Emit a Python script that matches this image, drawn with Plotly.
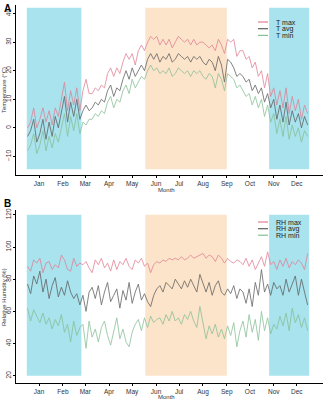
import pandas as pd
import plotly.graph_objects as go

dates = pd.date_range("2019-12-17", periods=92, freq="4D")

t_max = [0, 2, 7, 0, 3, 7, 2, 6, 1, 7, 4, 10,
         16, 6, 13, 8, 14, 6, 13, 17, 12, 12, 14, 13,
         15, 14, 19, 21, 18, 21, 19, 23, 26, 24, 26, 22,
         27, 29, 27, 30, 32, 31, 32, 29, 31, 29, 31, 28,
         30, 32, 31, 30, 31, 29, 31, 29, 30, 30, 29, 28,
         29, 27, 31, 29, 26, 31, 30, 31, 25, 27, 27, 24,
         25, 21, 23, 18, 20, 14, 19, 11, 14, 8, 13, 7,
         14, 5, 11, 6, 10, 3, 8, 5]
t_avg = [-3, -1, 3, -5, -2, 3, -4, 2, -3, 4, 0, 5,
         11, 2, 9, 4, 10, 3, 6, 8, 6, 7, 9, 8,
         10, 9, 13, 15, 11, 14, 13, 17, 20, 17, 21, 18,
         20, 22, 20, 24, 26, 24, 26, 23, 25, 24, 26, 23,
         24, 26, 25, 24, 25, 23, 25, 24, 25, 23, 22, 24,
         23, 20, 25, 22, 16, 24, 23, 21, 18, 19, 18, 16,
         17, 13, 15, 12, 14, 9, 12, 7, 10, 3, 8, 2,
         9, 1, 6, 2, 5, 0, 4, 1]
t_min = [-8, -6, -2, -9, -6, -1, -8, -3, -7, -2, -5, 0,
         5, -3, 4, -1, 5, -2, 2, 1, 3, 3, 5, 4,
         6, 5, 9, 11, 7, 10, 9, 13, 15, 12, 17, 14,
         16, 18, 17, 20, 22, 20, 21, 19, 20, 19, 21, 18,
         19, 21, 20, 19, 20, 18, 20, 19, 20, 18, 17, 19,
         18, 14, 19, 17, 13, 19, 18, 17, 14, 15, 13, 11,
         12, 8, 11, 7, 10, 4, 8, 2, 5, -2, 3, -3,
         4, -4, 1, -3, 0, -5, -1, -3]

rh_max = [88, 85, 92, 90, 93, 84, 90, 91, 86, 89, 87, 95,
          92, 86, 85, 93, 88, 90, 89, 91, 87, 84, 92, 89,
          93, 87, 90, 85, 92, 86, 91, 89, 93, 88, 86, 92,
          90, 93, 88, 90, 84, 89, 91, 90, 92, 91, 93, 92,
          93, 92, 94, 92, 93, 95, 93, 94, 95, 96, 93, 95,
          94, 91, 95, 93, 90, 93, 91, 90, 92, 91, 89, 93,
          88, 92, 86, 90, 94, 88, 97, 89, 91, 86, 92, 88,
          93, 87, 91, 89, 92, 90, 86, 96]
rh_avg = [77, 71, 82, 77, 85, 72, 80, 68, 76, 81, 69, 75,
          70, 79, 72, 68, 71, 64, 70, 60, 72, 75, 68, 76,
          64, 72, 78, 66, 70, 74, 62, 73, 67, 78, 65, 72,
          77, 67, 71, 66, 63, 70, 74, 76, 72, 78, 76, 74,
          80, 77, 74, 79, 75, 80, 76, 72, 83, 77, 72, 78,
          70, 76, 79, 72, 70, 74, 71, 76, 68, 74, 72, 65,
          74, 63, 78, 70, 86, 72, 77, 70, 78, 74, 76, 70,
          80, 72, 77, 82, 70, 80, 72, 64]
rh_min = [62, 54, 61, 57, 53, 59, 52, 56, 49, 55, 51, 58,
          47, 52, 41, 54, 45, 50, 52, 37, 54, 44, 49, 41,
          50, 54, 45, 39, 47, 56, 43, 49, 41, 38, 47, 52,
          55, 48, 56, 50, 57, 53, 55, 56, 52, 58, 54, 60,
          54, 56, 52, 58, 55, 60, 54, 50, 63, 52, 43, 51,
          46, 52, 44, 49, 43, 51, 45, 53, 38, 48, 54, 44,
          58, 47, 55, 42, 60, 48, 56, 46, 52, 49, 57, 51,
          59, 48, 62, 53, 58, 50, 56, 48]

month_ticks = pd.date_range("2020-01-01", periods=12, freq="MS")
month_labels = ["Jan", "Feb", "Mar", "Apr", "May", "Jun",
                "Jul", "Aug", "Sep", "Oct", "Nov", "Dec"]

cold_periods = [("2019-12-16", "2020-02-25"), ("2020-10-26", "2020-12-17")]
warm_periods = [("2020-05-18", "2020-09-01")]

COL_MAX = "#E07F93"
COL_AVG = "#5E5E5E"
COL_MIN = "#86BE95"
COL_COLD = "#A8E3EE"
COL_WARM = "#FCE4CA"
FONT = "Liberation Sans"

ML, MR, MT, MB = 16, 2, 5, 17
W = 325 - ML - MR
H = 400 - MT - MB
def px(xp):
    return (xp - ML) / W
def py(yp):
    return (400 - MB - yp) / H

fig = go.Figure()

series_a = [("T max", t_max, COL_MAX), ("T avg", t_avg, COL_AVG), ("T min", t_min, COL_MIN)]
series_b = [("RH max", rh_max, COL_MAX), ("RH avg", rh_avg, COL_AVG), ("RH min", rh_min, COL_MIN)]

for name, vals, col in series_a:
    fig.add_trace(go.Scatter(x=dates, y=vals, mode="lines", name=name,
                             line=dict(color=col, width=0.9), opacity=0.85,
                             xaxis="x", yaxis="y", showlegend=False))
for name, vals, col in series_b:
    fig.add_trace(go.Scatter(x=dates, y=vals, mode="lines", name=name,
                             line=dict(color=col, width=0.9), opacity=0.85,
                             xaxis="x2", yaxis="y2", showlegend=False))

shapes = []
for (xr, yr, y0, y1) in [("x", "y", -14.5, 42), ("x2", "y2", 20, 120)]:
    for s, e in cold_periods:
        shapes.append(dict(type="rect", xref=xr, yref=yr, x0=s, x1=e, y0=y0, y1=y1,
                           fillcolor=COL_COLD, line=dict(width=0), layer="below"))
    for s, e in warm_periods:
        shapes.append(dict(type="rect", xref=xr, yref=yr, x0=s, x1=e, y0=y0, y1=y1,
                           fillcolor=COL_WARM, line=dict(width=0), layer="below"))

annotations = []
# compact ggplot-style legend keys
for series, ys in [(series_a, [22, 28.7, 35.4]), (series_b, [222, 228.7, 235.2])]:
    for (name, _, col), yy in zip(series, ys):
        shapes.append(dict(type="line", xref="paper", yref="paper",
                           x0=px(258), x1=px(268), y0=py(yy), y1=py(yy),
                           line=dict(color=col, width=1.2)))
        annotations.append(dict(text=name, x=px(274), y=py(yy), xanchor="left",
                                yanchor="middle",
                                font=dict(family=FONT, size=7, color="#222222")))

xcommon = dict(type="date", range=["2019-12-02", "2021-01-04"],
               tickvals=list(month_ticks), ticktext=month_labels,
               showline=True, linecolor="black", linewidth=0.6,
               ticks="outside", ticklen=2, tickwidth=0.6, tickcolor="black",
               showgrid=False, zeroline=False, automargin=False,
               tickfont=dict(family=FONT, size=6.5, color="#333333"))
ycommon = dict(showline=True, linecolor="black", linewidth=0.6,
               ticks="outside", ticklen=2, tickwidth=0.6, tickcolor="black",
               showgrid=False, zeroline=False, tickangle=-90, automargin=False,
               tickfont=dict(family=FONT, size=6.5, color="#333333"))

annotations += [
    dict(text="<b>A</b>", x=px(2), y=py(1), xanchor="left", yanchor="top",
         font=dict(family=FONT, size=10, color="black")),
    dict(text="<b>B</b>", x=px(2), y=py(196), xanchor="left", yanchor="top",
         font=dict(family=FONT, size=10, color="black")),
    dict(text="Month", x=px(166), y=py(190.5), xanchor="center", yanchor="middle",
         font=dict(family=FONT, size=6, color="#333333")),
    dict(text="Month", x=px(166), y=py(396.5), xanchor="center", yanchor="middle",
         font=dict(family=FONT, size=6, color="#333333")),
    dict(text="Temperature (°C)", x=px(4), y=py(90), xanchor="center", yanchor="middle",
         textangle=-90, font=dict(family=FONT, size=6, color="#333333")),
    dict(text="Relative Humidity (%)", x=px(4), y=py(297), xanchor="center", yanchor="middle",
         textangle=-90, font=dict(family=FONT, size=6, color="#333333")),
]
for a in annotations:
    a.update(xref="paper", yref="paper", showarrow=False)

fig.update_layout(
    template="none",
    width=325, height=400,
    paper_bgcolor="white", plot_bgcolor="white",
    margin=dict(l=ML, r=MR, t=MT, b=MB, pad=0),
    showlegend=False,
    hovermode=False,
    shapes=shapes,
    annotations=annotations,
    xaxis=dict(domain=[0, 1], anchor="y", **xcommon),
    yaxis=dict(domain=[py(175), py(5)], anchor="x", range=[-16.5, 43],
               tickvals=[-10, 0, 10, 20, 30, 40], **ycommon),
    xaxis2=dict(domain=[0, 1], anchor="y2", **xcommon),
    yaxis2=dict(domain=[py(383), py(210)], anchor="x2", range=[15.5, 123],
                tickvals=[20, 40, 60, 80, 100, 120], **ycommon),
)

fig.write_html("out.html", config={"displayModeBar": False},
               post_script="document.body.style.margin='0';document.body.style.padding='0';")
